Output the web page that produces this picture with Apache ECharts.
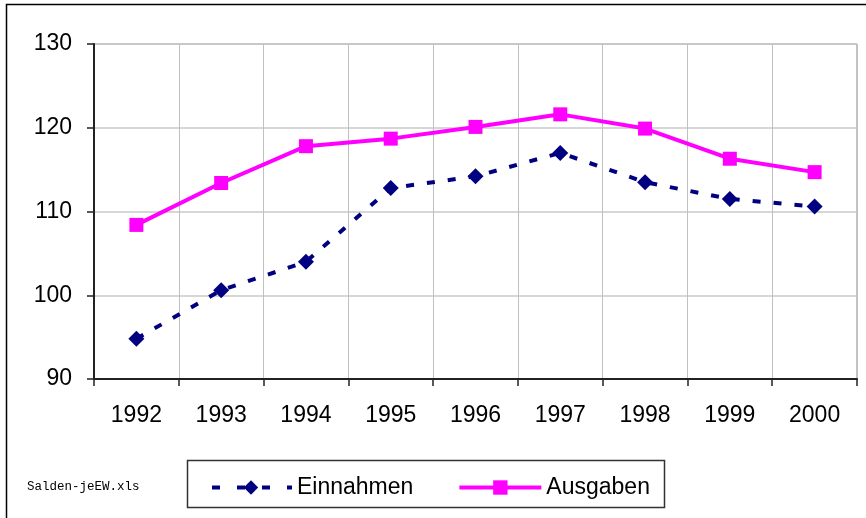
<!DOCTYPE html>
<html>
<head>
<meta charset="utf-8">
<script src="https://cdn.jsdelivr.net/npm/echarts@6/dist/echarts.min.js"></script>
<style>html,body{margin:0;padding:0;background:#fff}#c{width:866px;height:518px}</style>
</head>
<body>
<div id="c"></div>
<script>
var years = ['1992','1993','1994','1995','1996','1997','1998','1999','2000'];
var einnahmen = [94.8, 100.6, 104.0, 112.8, 114.2, 117.0, 113.5, 111.5, 110.6];
var ausgaben = [108.4, 113.4, 117.8, 118.7, 120.1, 121.6, 119.9, 116.3, 114.7];
var yTicks = {min: 90, max: 130, interval: 10};
var seriesNames = ['Einnahmen', 'Ausgaben'];
var sourceNote = 'Salden-jeEW.xls';

var chart = echarts.init(document.getElementById('c'), null, {renderer: 'canvas'});
var font = 'Arial, "Liberation Sans", sans-serif';
chart.setOption({
  animation: false,
  backgroundColor: '#fff',
  grid: {left: 94, top: 44, right: 9, bottom: 139, show: true, borderColor: '#888', borderWidth: 1, backgroundColor: 'transparent'},
  xAxis: {
    type: 'category', data: years, boundaryGap: true,
    axisLine: {lineStyle: {color: '#222', width: 2}},
    axisTick: {show: true, length: 7, lineStyle: {color: '#222', width: 1.5}},
    axisLabel: {color: '#000', fontSize: 23, fontFamily: font, margin: 25},
    splitLine: {show: true, interval: 0, lineStyle: {color: '#c0c0c0', width: 1}}
  },
  yAxis: {
    type: 'value', min: yTicks.min, max: yTicks.max, interval: yTicks.interval,
    axisLine: {show: true, lineStyle: {color: '#222', width: 2}},
    axisTick: {show: true, length: 7, lineStyle: {color: '#222', width: 1.5}},
    axisLabel: {color: '#000', fontSize: 23, fontFamily: font, margin: 22},
    splitLine: {show: true, lineStyle: {color: '#c8c8c8', width: 1.5}}
  },
  legend: {
    data: [
      {name: seriesNames[0], lineStyle: {width: 4, type: [8, 17], dashOffset: -2}},
      {name: seriesNames[1], lineStyle: {width: 4}}
    ],
    left: 203, top: 471,
    itemWidth: 82, itemHeight: 18, itemGap: 44,
    textStyle: {color: '#000', fontSize: 23, fontFamily: font}
  },
  graphic: [
    {type: 'polyline', shape: {points: [[6.5, 518], [6.5, 4.5], [866, 4.5]]}, style: {stroke: '#000', lineWidth: 1.5, fill: null}, z: 0},
    {type: 'rect', shape: {x: 187.5, y: 460.5, width: 477, height: 47}, style: {stroke: '#333', lineWidth: 1.5, fill: '#fff'}, z: -1},
    {type: 'text', left: 27, top: 480, style: {text: sourceNote, font: '12.5px "Liberation Mono", monospace', fill: '#000'}}
  ],
  series: [
    {
      name: seriesNames[0], type: 'line', data: einnahmen,
      symbol: 'diamond', symbolSize: 16,
      itemStyle: {color: '#000080'},
      lineStyle: {color: '#000080', width: 4, type: [8, 13]}
    },
    {
      name: seriesNames[1], type: 'line', data: ausgaben,
      symbol: 'rect', symbolSize: 14,
      itemStyle: {color: '#ff00ff'},
      lineStyle: {color: '#ff00ff', width: 4}
    }
  ]
});
</script>
</body>
</html>
